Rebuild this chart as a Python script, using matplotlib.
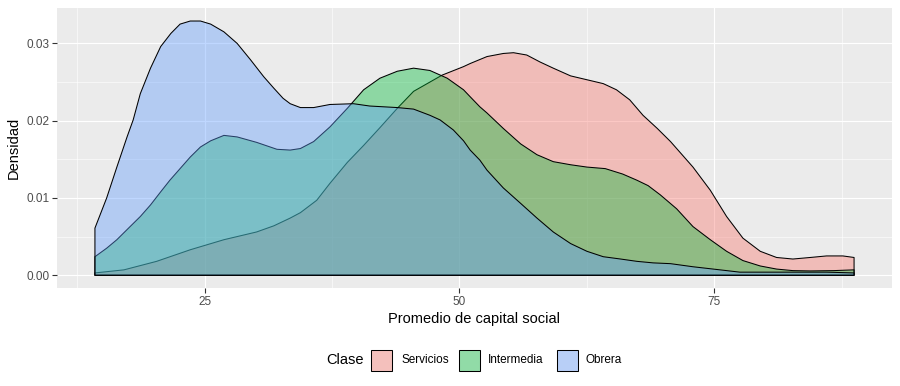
import matplotlib
matplotlib.use("Agg")
import matplotlib.pyplot as plt
from matplotlib.patches import Rectangle
from matplotlib.ticker import MultipleLocator, FormatStrFormatter

plt.rcParams['font.family'] = ['Liberation Sans', 'DejaVu Sans']

# density curves (x = promedio, y = densidad)
servicios_x = [14.25, 17.1, 20.3, 23.6, 26.9, 30.1, 31.8, 33.4, 34.4, 36.0, 37.3, 39.0, 40.6,
               42.2, 43.9, 45.5, 47.1, 48.3, 50.4, 51.05, 52.7, 54.3, 55.3, 56.6, 57.9, 59.2,
               60.9, 62.5, 64.1, 65.4, 66.7, 68.0, 69.4, 70.7, 71.3, 72.9, 74.6, 76.2, 77.8,
               79.5, 81.1, 82.7, 84.4, 86.0, 87.6, 88.7]
servicios_y = [0.0003, 0.0007, 0.0018, 0.0033, 0.0046, 0.0056, 0.0064, 0.0074, 0.0081, 0.0097,
               0.0119, 0.0146, 0.0168, 0.0191, 0.0216, 0.0238, 0.0250, 0.0259, 0.0270, 0.0274,
               0.0283, 0.0287, 0.0288, 0.0285, 0.0276, 0.0268, 0.0258, 0.0253, 0.0248, 0.0240,
               0.0227, 0.0207, 0.0190, 0.0173, 0.0164, 0.0140, 0.0110, 0.0076, 0.0048, 0.0031,
               0.0023, 0.0021, 0.0023, 0.0025, 0.0025, 0.0023]

intermedia_x = [14.25, 15.4, 16.4, 17.7, 18.7, 19.7, 20.7, 21.6, 22.6, 23.6, 24.6, 25.6, 26.9,
                28.2, 30.1, 32.1, 33.4, 34.4, 35.7, 37.3, 39.0, 40.6, 42.2, 43.9, 45.5, 47.1,
                48.8, 50.4, 51.05, 52.0, 52.7, 54.3, 56.0, 57.6, 59.2, 60.9, 62.5, 64.3, 66.0,
                67.4, 68.5, 69.7, 71.3, 72.9, 74.6, 76.2, 77.8, 79.5, 81.1, 82.7, 84.4, 86.7, 88.7]
intermedia_y = [0.0024, 0.0035, 0.0046, 0.0063, 0.0076, 0.0091, 0.0108, 0.0123, 0.0138, 0.0153,
                0.0166, 0.0174, 0.0181, 0.0179, 0.0172, 0.0163, 0.0162, 0.0164, 0.0173, 0.0192,
                0.0216, 0.0240, 0.0255, 0.0264, 0.0268, 0.0265, 0.0255, 0.0240, 0.0231, 0.0218,
                0.0210, 0.0190, 0.0170, 0.0156, 0.0147, 0.0143, 0.0140, 0.0138, 0.0131, 0.0123,
                0.0116, 0.0104, 0.0086, 0.0063, 0.0046, 0.0031, 0.0019, 0.0012, 0.0008, 0.0006,
                0.00056, 0.0006, 0.0007]

obrera_x = [14.25, 15.4, 16.4, 17.4, 18.0, 18.7, 19.7, 20.7, 21.7, 22.6, 23.6, 24.6, 25.6, 26.9,
            28.2, 29.5, 30.8, 31.8, 32.7, 33.4, 34.4, 35.7, 37.3, 39.6, 41.2, 43.9, 45.5, 47.1,
            48.1, 48.8, 49.4, 50.4, 51.05, 52.0, 52.7, 54.3, 56.0, 57.6, 59.2, 60.9, 62.5, 64.1,
            65.8, 67.4, 69.0, 70.7, 72.9, 76.2, 77.5, 81.1, 86.0, 88.7]
obrera_y = [0.0061, 0.0100, 0.0140, 0.0179, 0.0201, 0.0235, 0.0268, 0.0296, 0.0313, 0.0325,
            0.0329, 0.0329, 0.0325, 0.0315, 0.0300, 0.0279, 0.0257, 0.0242, 0.0229, 0.0222,
            0.0217, 0.0217, 0.0221, 0.0222, 0.0219, 0.0217, 0.0215, 0.0207, 0.0201, 0.0194,
            0.0188, 0.0174, 0.0162, 0.0149, 0.0136, 0.0113, 0.0093, 0.0074, 0.0056, 0.0041,
            0.0031, 0.0024, 0.0021, 0.0018, 0.0016, 0.0015, 0.0011, 0.0006, 0.0004, 0.0004,
            0.0004, 0.0003]

clases = ["Servicios", "Intermedia", "Obrera"]
colores = ["#F8766D", "#00BA38", "#619CFF"]
series = [(servicios_x, servicios_y), (intermedia_x, intermedia_y), (obrera_x, obrera_y)]

W, H = 900, 386
fig = plt.figure(figsize=(W / 100, H / 100), dpi=100)
ax = fig.add_axes([57 / W, 1 - 288 / H, (892 - 57) / W, (288 - 7.5) / H])
ax.set_facecolor("#EBEBEB")

for (xs, ys), col in zip(series, colores):
    rgb = matplotlib.colors.to_rgb(col)
    ax.fill(xs + [xs[-1], xs[0]], ys + [0, 0], facecolor=rgb + (0.4,),
            edgecolor="black", linewidth=0.75, joinstyle="round", zorder=3)

ax.set_xlim(10.53, 92.42)
ax.set_ylim(-0.00165, 0.03465)
ax.xaxis.set_major_locator(MultipleLocator(25))
ax.xaxis.set_minor_locator(MultipleLocator(12.5))
ax.yaxis.set_major_locator(MultipleLocator(0.01))
ax.yaxis.set_minor_locator(MultipleLocator(0.005))
ax.yaxis.set_major_formatter(FormatStrFormatter("%.2f"))
ax.grid(which="major", color="white", linewidth=0.8, zorder=1)
ax.grid(which="minor", color="white", linewidth=0.4, zorder=1)
ax.set_axisbelow(True)
for s in ax.spines.values():
    s.set_visible(False)
ax.tick_params(which="major", length=3.5, width=0.8, color="#333333",
               labelcolor="#4D4D4D", labelsize=8.45, pad=2)
ax.tick_params(which="minor", length=0)

ax.set_xlabel("Promedio de capital social", fontsize=10.56, labelpad=3)
ax.set_ylabel("Densidad", fontsize=10.56, labelpad=4)

# legend at the bottom, built by hand
def fx(px):
    return px / W

def fy(py):
    return 1 - py / H

ly = 360
fig.text(fx(326), fy(ly), "Clase", fontsize=10.56, va="center", ha="left")
key_left = [371, 459, 557]
text_left = [401, 488, 585]
for kx, tx, lab, col in zip(key_left, text_left, clases, colores):
    rgb = matplotlib.colors.to_rgb(col)
    fig.add_artist(Rectangle((fx(kx), fy(ly + 10.5)), 21 / W, 21 / H,
                             transform=fig.transFigure, facecolor="#F2F2F2", edgecolor="none"))
    fig.add_artist(Rectangle((fx(kx), fy(ly + 10.5)), 21 / W, 21 / H,
                             transform=fig.transFigure, facecolor=rgb + (0.4,),
                             edgecolor="black", linewidth=0.75))
    fig.text(fx(tx), fy(ly), lab, fontsize=8.45, va="center", ha="left")

fig.savefig("out.png", dpi=100)
